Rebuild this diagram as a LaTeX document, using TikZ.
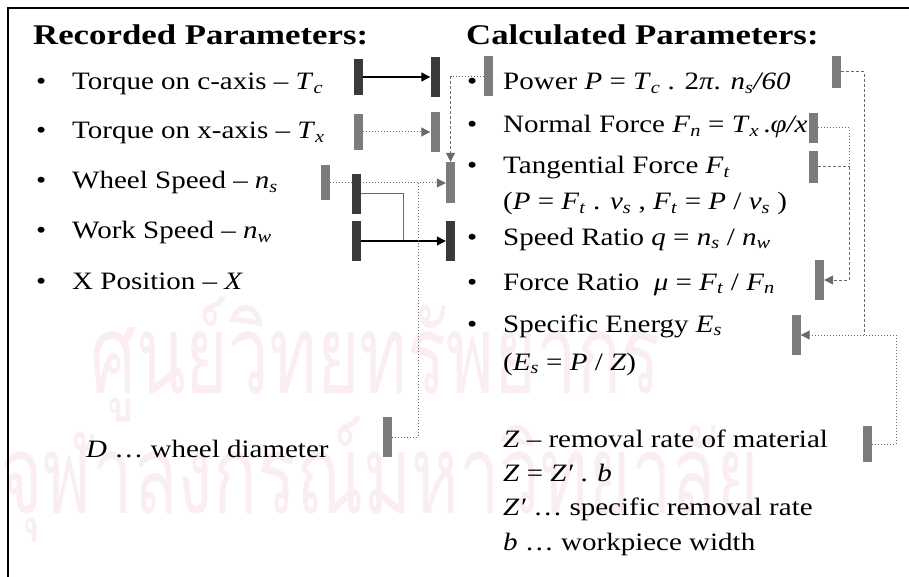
\documentclass[tikz,border=0pt]{standalone}
\usepackage{fontspec}
\setmainfont{Liberation Serif}[FakeStretch=1.16]
\newfontfamily\headfont{Liberation Serif}[FakeStretch=1.22]
\newfontfamily\thaimark{Loma}[Script=Thai, FakeStretch=0.66]
\usepackage{tikz}
\usetikzlibrary{arrows.meta, positioning, backgrounds}
\tikzset{every node/.style={font=\fontsize{25}{30}\selectfont}}
\usepackage{xcolor}
\definecolor{bardark}{HTML}{3A3A3A}
\definecolor{barmid}{HTML}{7C7C7C}
\definecolor{linkgray}{HTML}{6A6A6A}
\definecolor{wmpink}{HTML}{FAEEF4}
\newcommand{\vsub}[2]{\textit{#1}\textsubscript{\textit{#2}}}
\newcommand{\bul}{\makebox[36pt][l]{•}}

\begin{document}
\begin{tikzpicture}[
  x=1pt, y=-1pt,
  headnode/.style={anchor=base west, inner sep=0pt, font=\headfont\bfseries\fontsize{28.5}{32}\selectfont},
  itemnode/.style={anchor=base west, inner sep=0pt},
  marknode/.style={anchor=base west, inner sep=0pt, text=wmpink, font=\thaimark\fontsize{110}{120}\selectfont},
  darkbar/.style={fill=bardark, inner sep=0pt, minimum width=9pt, minimum height=40pt},
  midbar/.style={fill=barmid, inner sep=0pt, minimum width=9pt, minimum height=40pt},
  solidlink/.style={line width=1.3pt, -{Triangle[length=9pt,width=9pt]}},
  dotlink/.style={linkgray, line width=1pt, dotted},
  dashlink/.style={linkgray, line width=1pt, densely dashed},
  graytip/.style={-{Triangle[length=9pt,width=9pt]}}
]
  \useasboundingbox (0,0) rectangle (909,577);
  % watermark
  \begin{pgfonlayer}{background}
    \node[marknode] (wm1) at (90,393) {ศูนย์วิทยทรัพยากร};
    \node[marknode] (wm2) at (0,513) {จุฬาลงกรณ์มหาวิทยาลัย};
  \end{pgfonlayer}
  \draw[line width=2.5pt] (8,577) -- (8,8) -- (909,8);

  % headings
  \node[headnode] (rechead) at (33,45) {Recorded Parameters:};
  \node[headnode] (calchead) at (466,45) {Calculated Parameters:};

  % recorded parameters
  \node[itemnode] (tc) at (36,90) {\bul Torque on c-axis -- \vsub{T}{c}};
  \node[itemnode] (tx) at (36,139) {\bul Torque on x-axis -- \vsub{T}{x}};
  \node[itemnode] (ns) at (36,189) {\bul Wheel Speed -- \vsub{n}{s}};
  \node[itemnode] (nw) at (36,239) {\bul Work Speed -- \vsub{n}{w}};
  \node[itemnode] (xp) at (36,289) {\bul X Position -- \textit{X}};
  \node[itemnode] (dia) at (86,457) {\textit{D} … wheel diameter};

  % calculated parameters
  \node[itemnode] (pw) at (467,90) {\bul Power \textit{P} = \vsub{T}{c} . 2\textit{π}. \vsub{n}{s}\textit{/60}};
  \node[itemnode] (fn) at (467,133) {\bul Normal Force \vsub{F}{n} = \vsub{T}{x}\,.\textit{φ/x}};
  \node[itemnode] (ft) at (467,174) {\bul Tangential Force \vsub{F}{t}};
  \node[itemnode] (ftx) at (503,210) {(\textit{P} = \vsub{F}{t} . \vsub{v}{s} , \vsub{F}{t} = \textit{P} / \vsub{v}{s} )};
  \node[itemnode] (q) at (467,245) {\bul Speed Ratio \textit{q} = \vsub{n}{s} / \vsub{n}{w}};
  \node[itemnode] (mu) at (467,290) {\bul Force Ratio \ \textit{μ} = \vsub{F}{t} / \vsub{F}{n}};
  \node[itemnode] (es) at (467,332) {\bul Specific Energy \vsub{E}{s}};
  \node[itemnode] (esx) at (503,370) {(\vsub{E}{s} = \textit{P} / \textit{Z})};
  \node[itemnode] (zr) at (503,447) {\textit{Z} -- removal rate of material};
  \node[itemnode] (zz) at (503,481) {\textit{Z} = \textit{Z′} . \textit{b}};
  \node[itemnode] (zp) at (503,515) {\textit{Z′} … specific removal rate};
  \node[itemnode] (bw) at (503,550) {\textit{b} … workpiece width};

  % bars
  \node[darkbar, minimum height=36pt] (bartc) at (358,77) {};
  \node[darkbar] (bartcin) at (435,77) {};
  \node[midbar, minimum height=36pt] (bartx) at (358,132) {};
  \node[midbar] (bartxin) at (435,132) {};
  \node[midbar, minimum height=35pt] (barns) at (325,183) {};
  \node[midbar, minimum height=41pt] (barftin) at (450.5,182.5) {};
  \node[darkbar] (barnsq) at (356.5,194) {};
  \node[darkbar] (barnw) at (356.5,241) {};
  \node[darkbar] (barqin) at (450.5,241) {};
  \node[midbar] (bardia) at (387.5,437) {};
  \node[midbar] (barpin) at (488.5,76.5) {};
  \node[midbar, minimum height=32pt] (barpout) at (836,72) {};
  \node[midbar, minimum height=30pt] (barfnout) at (813,128) {};
  \node[midbar, minimum height=32pt] (barftout) at (813.5,167) {};
  \node[midbar] (barmuin) at (819.5,280) {};
  \node[midbar] (baresin) at (796,335) {};
  \node[midbar, minimum height=36pt] (barzout) at (867.5,444) {};

  % junctions
  \coordinate (nsjoin) at (403,241);
  \coordinate (vsjoin) at (418,183);
  \coordinate (pturn) at (barpin.west -| barftin.north);
  \coordinate (fjoin) at (849,167);
  \coordinate (esjoin) at (864,335);
  \coordinate (zturn) at (896,335);

  % links
  \begin{pgfonlayer}{background}
    \draw[solidlink] (bartc.east) -- (bartcin.west);
    \draw[dotlink, graytip] (bartx.east) -- (bartxin.west);
    \draw[dotlink, graytip] (barns.east) -- (barns.east -| barftin.west);
    \draw[linkgray, line width=1pt] (barnsq.east) -| (nsjoin);
    \draw[solidlink] (barnw.east) -- (barqin.west);
    \draw[dotlink] (bardia.east) -| (vsjoin);
    \draw[dotlink] (barpin.west) -- (pturn);
    \draw[dashlink, graytip] (pturn) -- (barftin.north);
    \draw[dashlink] (barpout.east) -| (esjoin);
    \draw[dotlink] (barfnout.east) -| (fjoin);
    \draw[dashlink, graytip] (fjoin) |- (barmuin.east);
    \draw[dashlink] (barftout.east) -- (fjoin);
    \draw[dotlink, graytip] (barzout.east) -| (zturn) -- (baresin.east);
  \end{pgfonlayer}
\end{tikzpicture}
\end{document}
